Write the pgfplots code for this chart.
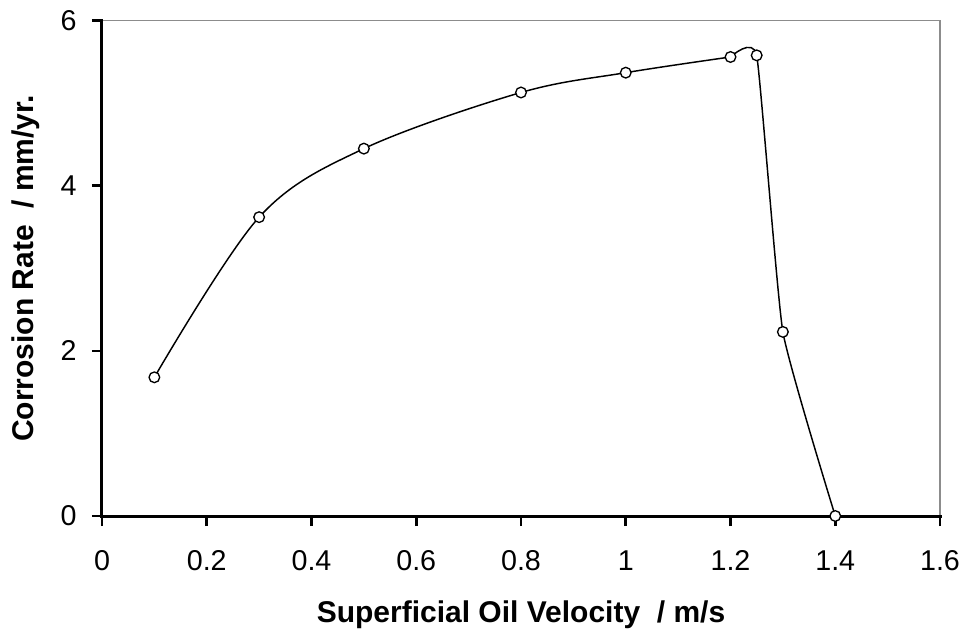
\documentclass[border=0pt]{standalone}
\usepackage{pgfplots}
\pgfplotsset{compat=1.18}
\usepackage{fontspec}
\setmainfont{Liberation Sans}
\begin{document}
\begin{tikzpicture}[x=1pt,y=1pt]
\useasboundingbox (-76.5,-89.25) rectangle (648,387);
\begin{axis}[
  at={(0,0)}, anchor=south west,
  scale only axis,
  width=628.5pt, height=371.5pt,
  xmin=0, xmax=1.6, ymin=0, ymax=6,
  xtick={0,0.2,...,1.6},
  ytick={0,2,4,6},
  xticklabels={0,0.2,0.4,0.6,0.8,1,1.2,1.4,1.6},
  yticklabels={0,2,4,6},
  axis line style={draw=gray!90, line width=0.8pt},
  tick align=outside,
  xtick pos=left, ytick pos=left,
  major tick length=7.5pt,
  tick style={black, line width=2pt},
  ticklabel style={font=\fontsize{21.5}{24}\selectfont},
  xticklabel style={yshift=-15pt},
  yticklabel style={xshift=-8pt},
  xlabel={Superficial Oil Velocity \ / m/s},
  ylabel={Corrosion Rate \ / mm/yr.},
  label style={font=\bfseries\fontsize{22.5}{26}\selectfont},
  xlabel style={at={(axis description cs:0.5,-0.216)}, anchor=base},
  ylabel style={at={(axis description cs:-0.0823,0.5)}, anchor=base, rotate=0},
  clip=false,
]
\addplot[black, line width=1.1pt, smooth, tension=0.55, no marks]
  coordinates {
  (0.1,1.68) (0.3,3.62) (0.5,4.45) (0.8,5.13) (1.0,5.37) (1.2,5.56)
  };
\addplot[black, line width=1.1pt, smooth, tension=0.25, no marks]
  coordinates {
  (1.2,5.56) (1.25,5.58) (1.3,2.23) (1.4,0)
  };
\addplot[only marks, mark=*, mark size=4pt,
  mark options={fill=white, draw=black, line width=1pt}]
  coordinates {
  (0.1,1.68) (0.3,3.62) (0.5,4.45) (0.8,5.13) (1.0,5.37)
  (1.2,5.56) (1.25,5.58) (1.3,2.23) (1.4,0)
  };
\draw[black, line width=2.25pt, line cap=rect] (rel axis cs:0,1) -- (rel axis cs:0,0) -- (rel axis cs:1,0);
\end{axis}
\end{tikzpicture}
\end{document}
